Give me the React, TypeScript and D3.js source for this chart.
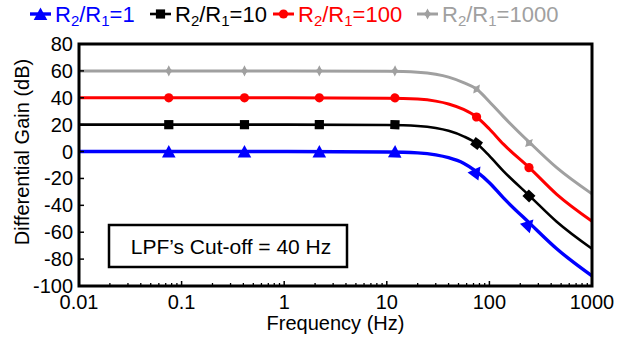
import React from "react";
import * as d3 from "d3";

// ---- data ----
const lineFreqs = [0.01, 1, 10, 20, 30, 40, 56, 75, 100, 137, 249, 453, 1000];
const blueGain = [0, 0, -0.3, -1, -2.5, -4.6, -8.7, -15, -23.2, -34.5, -53.6, -72.3, -92.5];
const blackGain = [20, 20, 19.7, 19, 17.5, 15.4, 11.3, 6, -3.2, -14.5, -33.3, -52.2, -72.3];
const redGain = [40, 40, 39.7, 39, 37.5, 35.4, 31.3, 25.7, 16.8, 5.5, -12.5, -31.8, -51.8];
const grayGain = [60, 60, 59.7, 59, 57.5, 55.4, 51.3, 46.5, 37, 26, 6.4, -12, -31.5];

const markerFreqs = [0.075, 0.41, 2.2, 12, 75, 243];
const blueMarkers = [0, 0, 0, 0, -15, -54];
const blackMarkers = [20, 20, 20, 20, 6, -33];
const redMarkers = [40, 40, 40, 40, 25.7, -12];
const grayMarkers = [60, 60, 60, 60, 46.5, 6.3];

const seriesNames = ["1", "10", "100", "1000"];
const seriesColors = ["#0000FF", "#000000", "#FF0000", "#A0A0A0"];
const seriesShapes = ["triangle", "square", "circle", "star"];

const xTicks = [0.01, 0.1, 1, 10, 100, 1000];
const xTickLabels = ["0.01", "0.1", "1", "10", "100", "1000"];
const yTicks = [80, 60, 40, 20, 0, -20, -40, -60, -80, -100];

const xTitle = "Frequency (Hz)";
const yTitle = "Differential Gain (dB)";
const noteText = "LPF\u2019s Cut-off = 40 Hz";

// ---- layout ----
const W = 639;
const H = 341;
const left = 79;
const right = 592;
const top = 44;
const bottom = 286;
const FONT = "Liberation Sans, Arial, sans-serif";

const x = d3.scaleLog().domain([0.01, 1000]).range([left, right]);
const y = d3.scaleLinear().domain([-100, 80]).range([bottom, top]);

function markerPath(shape: string): string {
  if (shape === "triangle") return "M0,-6.5L6.8,6L-6.8,6Z";
  if (shape === "square") return "M-4.6,-4.6H4.6V4.6H-4.6Z";
  if (shape === "circle") return d3.symbol().type(d3.symbolCircle).size(Math.PI * 4.6 * 4.6)() || "";
  return "M0,-5.6L1.9,-1.9L4.3,0L1.9,1.9L0,5.6L-1.9,1.9L-4.3,0L-1.9,-1.9Z";
}

export default function App() {
  const gains = [blueGain, blackGain, redGain, grayGain];
  const markers = [blueMarkers, blackMarkers, redMarkers, grayMarkers];
  const widths = [3.4, 2.6, 3, 3];

  const line = d3
    .line<[number, number]>()
    .x((d) => x(d[0]))
    .y((d) => y(d[1]))
    .curve(d3.curveMonotoneX);

  // angle of the curve at frequency f (pixel space)
  const angleAt = (g: number[], f: number) => {
    const pts = lineFreqs.map((fr, i) => [x(fr), y(g[i])] as [number, number]);
    const px = x(f);
    const at = (xx: number) => {
      for (let i = 0; i < pts.length - 1; i++) {
        if (xx >= pts[i][0] && xx <= pts[i + 1][0]) {
          const t = (xx - pts[i][0]) / (pts[i + 1][0] - pts[i][0]);
          return pts[i][1] + t * (pts[i + 1][1] - pts[i][1]);
        }
      }
      return pts[pts.length - 1][1];
    };
    const dy = at(px + 6) - at(px - 6);
    return (Math.atan2(dy, 12) * 180) / Math.PI;
  };

  const minorTicks: number[] = [];
  for (let e = -2; e < 3; e++) {
    for (let k = 2; k <= 9; k++) minorTicks.push(k * Math.pow(10, e));
  }

  const legendX = [30, 150, 273, 417];

  return (
    <svg width={W} height={H} style={{ position: "absolute", left: 0, top: 0, background: "#fff" }} fontFamily={FONT}>
      <rect x={0} y={0} width={W} height={H} fill="#fff" />
      {/* curves */}
      {gains.map((g, si) => (
        <path
          key={"l" + si}
          d={line(lineFreqs.map((f, i) => [f, g[i]] as [number, number])) || ""}
          fill="none"
          stroke={seriesColors[si]}
          strokeWidth={widths[si]}
        />
      ))}
      {/* markers */}
      {markers.map((m, si) =>
        markerFreqs.map((f, i) => (
          <path
            key={"m" + si + "-" + i}
            d={markerPath(seriesShapes[si])}
            fill={seriesColors[si]}
            transform={`translate(${x(f)},${y(m[i])}) rotate(${angleAt(gains[si], f)})`}
          />
        ))
      )}
      {/* frame */}
      <rect x={left} y={top} width={right - left} height={bottom - top} fill="none" stroke="#000" strokeWidth={3} />
      {/* y ticks */}
      {yTicks.map((t) => (
        <g key={"y" + t}>
          <line x1={left} x2={left + 5} y1={y(t)} y2={y(t)} stroke="#000" strokeWidth={1.5} />
          <text x={left - 6} y={y(t) + 7} textAnchor="end" fontSize={20} fill="#000">
            {t}
          </text>
        </g>
      ))}
      {/* x ticks */}
      {minorTicks.map((t, i) => (
        <line key={"mx" + i} x1={x(t)} x2={x(t)} y1={bottom} y2={bottom - 3} stroke="#000" strokeWidth={1.3} />
      ))}
      {xTicks.map((t, i) => (
        <g key={"x" + t}>
          <line x1={x(t)} x2={x(t)} y1={bottom} y2={bottom - 5} stroke="#000" strokeWidth={1.5} />
          <text x={x(t)} y={309} textAnchor="middle" fontSize={20} fill="#000">
            {xTickLabels[i]}
          </text>
        </g>
      ))}
      {/* axis titles */}
      <text x={(left + right) / 2} y={330} textAnchor="middle" fontSize={20} fill="#000">
        {xTitle}
      </text>
      <text transform={`translate(29,152) rotate(-90)`} textAnchor="middle" fontSize={20} fill="#000">
        {yTitle}
      </text>
      {/* annotation box */}
      <rect x={109} y={225} width={238} height={42} fill="#fff" stroke="#000" strokeWidth={2.5} />
      <text x={231} y={254} textAnchor="middle" fontSize={21} fill="#000">
        {noteText}
      </text>
      {/* legend */}
      {seriesNames.map((n, si) => (
        <g key={"lg" + si} transform={`translate(${legendX[si]},14)`}>
          <line x1={0} x2={21} y1={0} y2={0} stroke={seriesColors[si]} strokeWidth={widths[si]} />
          <path d={markerPath(seriesShapes[si])} fill={seriesColors[si]} transform="translate(10.5,0)" />
          <text x={25} y={8} fontSize={22} fill={seriesColors[si]}>
            R<tspan dy={4} fontSize={15}>2</tspan>
            <tspan dy={-4}>/R</tspan>
            <tspan dy={4} fontSize={15}>1</tspan>
            <tspan dy={-4}>={n}</tspan>
          </text>
        </g>
      ))}
    </svg>
  );
}
